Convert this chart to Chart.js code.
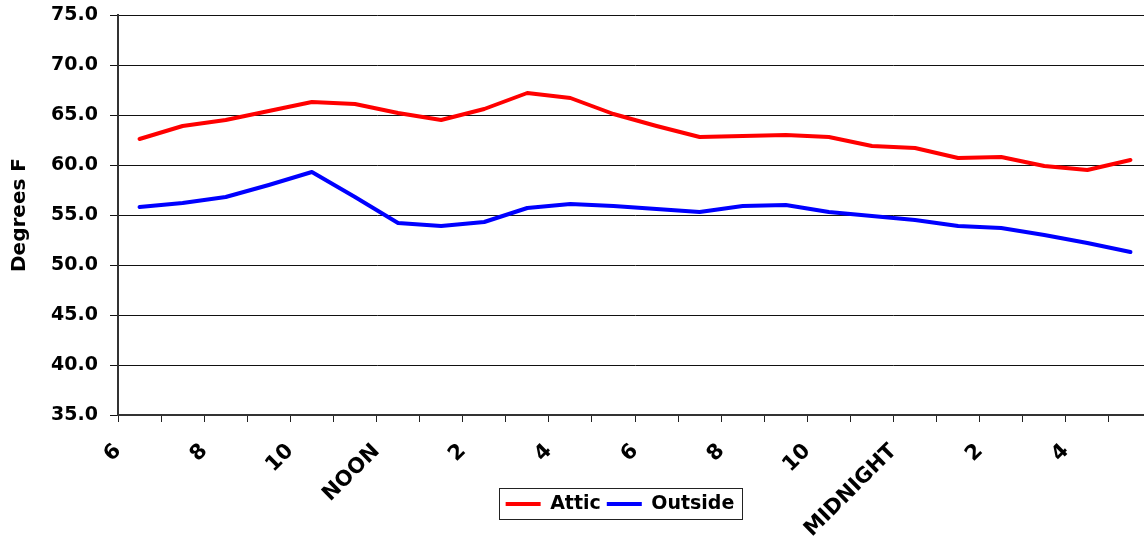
<!DOCTYPE html>
<html>
<head>
<meta charset="utf-8">
<title>Attic vs Outside Temperature</title>
<script src="https://cdn.jsdelivr.net/npm/chart.js@4.4.0/dist/chart.umd.min.js"></script>
<style>
  html, body { margin: 0; padding: 0; background: #ffffff; overflow: hidden; }
  #wrap { width: 1160px; height: 539px; }
</style>
</head>
<body>
<div id="wrap"><canvas id="chart" width="1160" height="539"></canvas></div>
<script>
// Hourly readings, taken at the half hour (6:30 AM through 5:30 AM next day)
const readingHours = [6.5, 7.5, 8.5, 9.5, 10.5, 11.5, 12.5, 13.5, 14.5, 15.5, 16.5, 17.5,
                      18.5, 19.5, 20.5, 21.5, 22.5, 23.5, 24.5, 25.5, 26.5, 27.5, 28.5, 29.5];

const atticTemps   = [62.6, 63.9, 64.5, 65.4, 66.3, 66.1, 65.2, 64.5, 65.6, 67.2, 66.7, 65.1,
                      63.9, 62.8, 62.9, 63.0, 62.8, 61.9, 61.7, 60.7, 60.8, 59.9, 59.5, 60.5];

const outsideTemps = [55.8, 56.2, 56.8, 58.0, 59.3, 56.8, 54.2, 53.9, 54.3, 55.7, 56.1, 55.9,
                      55.6, 55.3, 55.9, 56.0, 55.3, 54.9, 54.5, 53.9, 53.7, 53.0, 52.2, 51.3];

// Clock labels shown every two hours along the time axis
const labelHours = [6, 8, 10, 12, 14, 16, 18, 20, 22, 24, 26, 28];
const hourLabels = ['6', '8', '10', 'NOON', '2', '4', '6', '8', '10', 'MIDNIGHT', '2', '4'];

const yTickValues = [35, 40, 45, 50, 55, 60, 65, 70, 75];

const FONT = "'DejaVu Sans', 'Liberation Sans', Arial, sans-serif";
const LEGEND_CENTER_X = 620;
const LEGEND_CENTER_Y = 504;

const toPoints = (values) => values.map((v, i) => ({ x: readingHours[i], y: v }));

// Places the legend under the rotated time labels and frames it with a thin box
const legendFrame = {
  id: 'legendFrame',
  afterLayout(chart) {
    const lg = chart.legend;
    const pad = lg.options.labels.padding;
    const itemH = lg.legendHitBoxes[0].height;
    const dx = LEGEND_CENTER_X - (lg.left + lg.right) / 2;
    lg.left += dx;
    lg.right += dx;
    const h = lg.bottom - lg.top;
    lg.top = LEGEND_CENTER_Y - pad - itemH / 2;
    lg.bottom = lg.top + h;
    // let the slanted time labels use the full depth below the plot
    const xs = chart.scales.x;
    xs.bottom = chart.height;
    xs.height = xs.bottom - xs.top;
  },
  afterDraw(chart) {
    const lg = chart.legend;
    const pad = lg.options.labels.padding;
    const rowWidth = lg.lineWidths[0] - pad;
    const itemH = lg.legendHitBoxes[0].height;
    const cx = (lg.left + lg.right) / 2;
    const cy = lg.top + pad + itemH / 2;
    const ctx = chart.ctx;
    ctx.save();
    ctx.strokeStyle = '#222';
    ctx.lineWidth = 1;
    ctx.strokeRect(Math.round(cx - rowWidth / 2 - 7) + 0.5, Math.round(cy - 16) + 0.5,
                   Math.round(rowWidth + 14), 31);
    ctx.restore();
  }
};

Chart.defaults.color = '#000';
Chart.defaults.font.family = FONT;

new Chart(document.getElementById('chart'), {
  type: 'line',
  data: {
    datasets: [
      {
        label: 'Attic',
        data: toPoints(atticTemps),
        borderColor: '#ff0000',
        backgroundColor: '#ff0000',
        borderWidth: 4,
        pointRadius: 0,
        tension: 0,
        borderCapStyle: 'round',
        borderJoinStyle: 'round'
      },
      {
        label: 'Outside',
        data: toPoints(outsideTemps),
        borderColor: '#0000ff',
        backgroundColor: '#0000ff',
        borderWidth: 4,
        pointRadius: 0,
        tension: 0,
        borderCapStyle: 'round',
        borderJoinStyle: 'round'
      }
    ]
  },
  options: {
    responsive: false,
    animation: false,
    devicePixelRatio: 1,
    layout: { padding: { top: 15, right: 8, bottom: 16, left: 0 } },
    plugins: {
      tooltip: { enabled: false },
      legend: {
        position: 'bottom',
        labels: {
          usePointStyle: true,
          pointStyle: 'line',
          pointStyleWidth: 35,
          padding: 6,
          color: '#000',
          font: { family: FONT, size: 19, weight: 'bold' }
        }
      }
    },
    scales: {
      x: {
        type: 'linear',
        min: 6,
        max: 30,
        afterFit(scale) {
          scale.height = 73;
          scale.paddingLeft = 0;
          scale.paddingRight = 0;
        },
        afterBuildTicks(scale) {
          scale.ticks = scale.ticks.filter(t => t.value >= 6 && t.value <= 30);
        },
        ticks: {
          stepSize: 1,
          maxTicksLimit: 100,
          autoSkip: false,
          minRotation: 45,
          maxRotation: 45,
          padding: 17,
          color: '#000',
          font: { family: FONT, size: 21, weight: 'bold' },
          callback(value) {
            const idx = labelHours.indexOf(value);
            return idx >= 0 ? hourLabels[idx] : '';
          }
        },
        grid: {
          drawOnChartArea: false,
          drawTicks: true,
          tickLength: 7,
          color: '#222',
          lineWidth: 1
        },
        border: { display: true, color: '#333', width: 2 }
      },
      y: {
        min: 35,
        max: 75,
        afterFit(scale) {
          scale.width = 118;
          scale.paddingTop = 0;
          scale.paddingBottom = 0;
        },
        afterBuildTicks(scale) {
          scale.ticks = yTickValues.map(v => ({ value: v }));
        },
        ticks: {
          padding: 12,
          color: '#000',
          font: { family: FONT, size: 19, weight: 'bold' },
          callback: (value) => Number(value).toFixed(1)
        },
        grid: {
          color: '#111',
          lineWidth: 1,
          drawTicks: true,
          tickLength: 8
        },
        border: { display: true, color: '#333', width: 2 },
        title: {
          display: true,
          text: 'Degrees F',
          color: '#000',
          padding: { top: 8, bottom: 0 },
          font: { family: FONT, size: 20, weight: 'bold' }
        }
      }
    }
  },
  plugins: [legendFrame]
});
</script>
</body>
</html>
